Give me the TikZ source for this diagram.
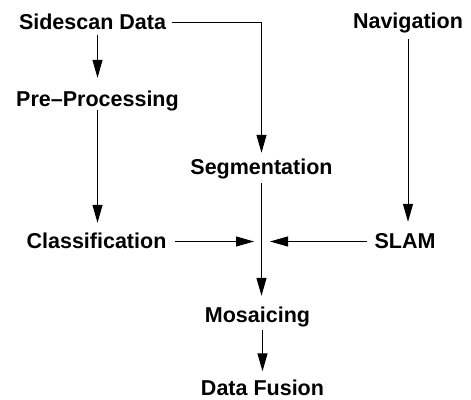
\documentclass[tikz,border=0pt]{standalone}
\usepackage{fontspec}
\setmainfont{Liberation Sans}
\usetikzlibrary{arrows.meta}
\begin{document}
\begin{tikzpicture}[x=1pt,y=1pt,
  lbl/.style={inner sep=0pt, anchor=base, text height=15pt, text depth=0pt,
    font=\fontsize{21.5}{24}\selectfont\bfseries},
  flow/.style={line width=1pt, -{Triangle[length=18pt,width=10pt]}}]
\useasboundingbox (0,0) rectangle (471,399);

% processing stages
\node[lbl] (sd)   at (92.5,369) {Sidescan Data};
\node[lbl] (nav)  at (408,370)  {Navigation};
\node[lbl] (pp)   at (97.5,292) {Pre–Processing};
\node[lbl] (seg)  at (261.5,224) {Segmentation};
\node[lbl] (cl)   at (96.5,150) {Classification};
\node[lbl] (slam) at (405,150)  {SLAM};
\node[lbl] (mos)  at (257.5,77) {Mosaicing};
\node[lbl] (df)   at (262.5,3.5) {Data Fusion};

% meeting point of the side inputs on the main line
\coordinate (jn) at (262,157.5);

% connectors
\draw[flow, shorten <=5pt, shorten >=14pt] (pp.north |- sd.south) -- (pp.north);
\draw[flow, shorten <=3pt, shorten >=11pt] (pp.south) -- (pp.south |- cl.north);
\draw[flow, shorten <=10pt, shorten >=12pt] (nav.south) -- (nav.south |- slam.north);
\draw[flow, shorten <=6pt, shorten >=7pt] (sd.east) -| (seg.north);
\draw[flow, shorten <=8pt, shorten >=11pt] (seg.south) -- (seg.south |- mos.north);
\draw[flow, shorten <=8pt, shorten >=9pt] (mos.south -| df.north) -- (df.north);
\draw[flow, shorten <=8pt, shorten >=8pt] (cl.east) -- (jn);
\draw[flow, shorten <=7pt, shorten >=8pt] (slam.west) -- (jn);
\end{tikzpicture}
\end{document}
